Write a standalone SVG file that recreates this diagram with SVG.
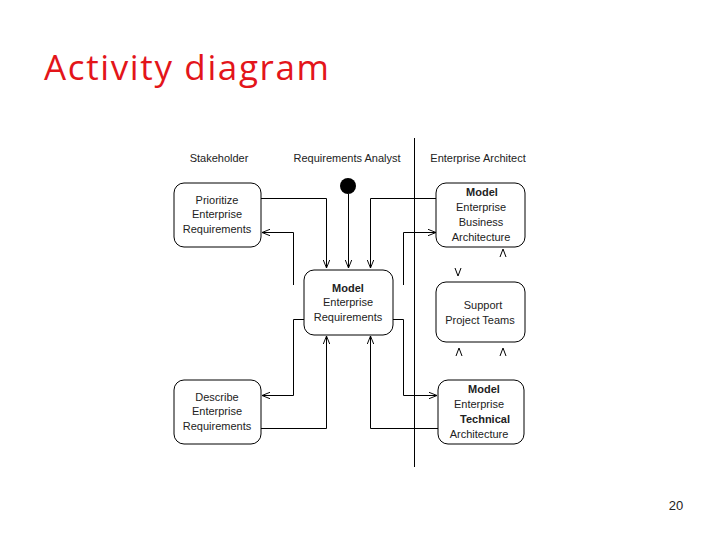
<svg xmlns="http://www.w3.org/2000/svg" width="720" height="540" viewBox="0 0 720 540">
<style>
.t{font-family:"Liberation Sans",Arial,sans-serif;font-size:11px;fill:#222;text-anchor:middle}
.b{font-weight:bold}
.n{fill:#fff;stroke:#000;stroke-width:1}
.c{fill:none;stroke:#000;stroke-width:1}
</style>
<defs>
<marker id="arr" viewBox="0 0 10 10" refX="10" refY="5" markerWidth="8" markerHeight="8" orient="auto" markerUnits="userSpaceOnUse">
<path d="M0,1 L10,5 L0,9" fill="none" stroke="#000" stroke-width="1.2"/>
</marker>
</defs>
<rect width="720" height="540" fill="#fff"/>
<text x="44" y="80" font-family="'Open Sans','Liberation Sans',Arial,sans-serif" font-size="35" fill="#e3151a" textLength="285" lengthAdjust="spacing">Activity diagram</text>
<text x="676" y="510" class="t" style="font-size:13px">20</text>

<g id="lanes">
<line x1="414.5" y1="138" x2="414.5" y2="467" stroke="#000"/>
<text x="219" y="162" class="t">Stakeholder</text>
<text x="347" y="162" class="t">Requirements Analyst</text>
<text x="478" y="162" class="t">Enterprise Architect</text>
</g>

<g id="start"><circle cx="348" cy="186" r="8" fill="#000"/></g>

<g id="connectors">
<polyline class="c" points="261,198.5 326.5,198.5 326.5,268" marker-end="url(#arr)"/>
<polyline class="c" points="348.5,194 348.5,268" marker-end="url(#arr)"/>
<polyline class="c" points="436,198.5 370.5,198.5 370.5,268" marker-end="url(#arr)"/>
<polyline class="c" points="293.5,285 293.5,232.5 262,232.5" marker-end="url(#arr)"/>
<polyline class="c" points="403.5,285 403.5,232.5 436,232.5" marker-end="url(#arr)"/>
<polyline class="c" points="304,319.5 293.5,319.5 293.5,395.5 262,395.5" marker-end="url(#arr)"/>
<polyline class="c" points="393,319.5 403.5,319.5 403.5,395.5 437,395.5" marker-end="url(#arr)"/>
<polyline class="c" points="261,428.5 326.5,428.5 326.5,336" marker-end="url(#arr)"/>
<polyline class="c" points="438,428.5 370.5,428.5 370.5,336" marker-end="url(#arr)"/>
<path class="c" d="M500,257 L503,249 L506,257"/>
<path class="c" d="M455,268 L458,276 L461,268"/>
<path class="c" d="M456,356 L459,348 L462,356"/>
<path class="c" d="M500,356 L503,348 L506,356"/>
</g>

<g id="prioritize">
<rect class="n" x="174" y="183" width="87" height="64" rx="10"/>
<text x="217" y="204" class="t">Prioritize</text>
<text x="217" y="218" class="t">Enterprise</text>
<text x="217" y="233" class="t">Requirements</text>
</g>

<g id="model-requirements">
<rect class="n" x="304" y="270" width="89" height="65" rx="10"/>
<text x="348" y="292" class="t b">Model</text>
<text x="348" y="306" class="t">Enterprise</text>
<text x="348" y="321" class="t">Requirements</text>
</g>

<g id="business-architecture">
<rect class="n" x="436" y="183" width="89" height="64" rx="10"/>
<text x="482" y="196" class="t b">Model</text>
<text x="481" y="211" class="t">Enterprise</text>
<text x="481" y="226" class="t">Business</text>
<text x="481" y="241" class="t">Architecture</text>
</g>

<g id="support">
<rect class="n" x="436" y="282" width="89" height="60" rx="10"/>
<text x="483" y="309" class="t">Support</text>
<text x="480" y="324" class="t">Project Teams</text>
</g>

<g id="describe">
<rect class="n" x="174" y="380" width="87" height="64" rx="10"/>
<text x="217" y="401" class="t">Describe</text>
<text x="217" y="415" class="t">Enterprise</text>
<text x="217" y="430" class="t">Requirements</text>
</g>

<g id="technical-architecture">
<rect class="n" x="438" y="380" width="86" height="64" rx="10"/>
<text x="484" y="393" class="t b">Model</text>
<text x="479" y="408" class="t">Enterprise</text>
<text x="485" y="423" class="t b">Technical</text>
<text x="479" y="438" class="t">Architecture</text>
</g>
</svg>
